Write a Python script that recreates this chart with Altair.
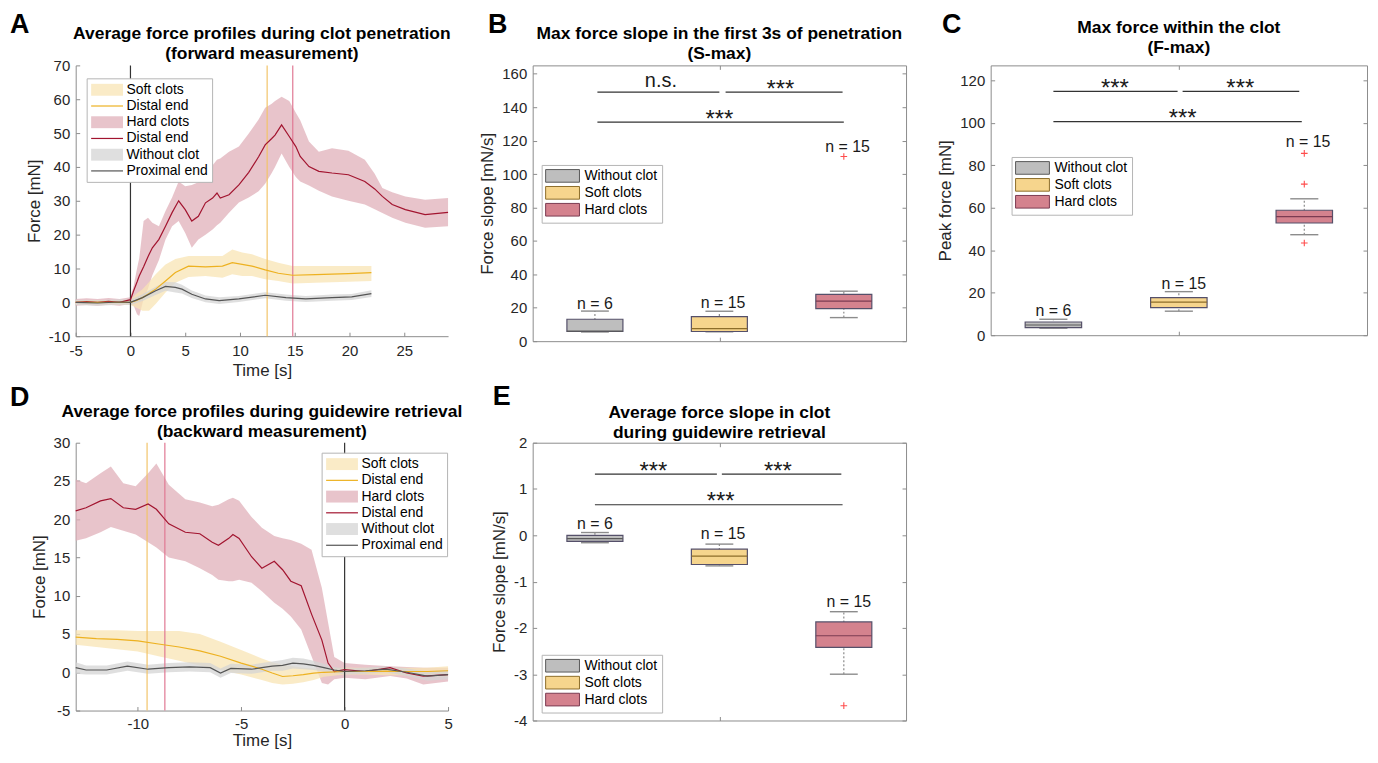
import altair as alt
import pandas as pd

FONT = "Liberation Sans"
MINUS = "replace(datum.label, '\u2212', '-')"

# ---------------- Panel A : forward measurement ----------------
a_hard_t = [-5, -4, -3, -2, -1, 0, 0.3, 0.6, 0.8, 1.2, 1.6, 2.0, 2.6, 3.2, 3.8, 4.4, 5.0, 5.6, 6.2, 6.85, 7.5,
            7.9, 8.2, 9.0, 9.9, 10.8, 11.7, 12.3, 12.9, 13.2, 13.8, 14.5, 15.1, 15.5, 16.3, 17.2, 18.4, 19.9,
            21.4, 22.3, 23.0, 23.9, 25.1, 26.9, 29]
a_hard_m = [0, 0.2, 0, 0.3, 0, 0.8, 3.5, 6, 7.8, 10.5, 13.5, 16.1, 18.6, 22.5, 26.5, 30, 27.4, 24, 25.4, 29.4,
            30.8, 32.3, 30.8, 31.8, 34.7, 38.4, 43.0, 46.5, 48.4, 49.4, 52.4, 49, 46, 43.1, 40.1, 38.7, 38.2,
            37.7, 35.7, 33.5, 31.3, 28.9, 27.4, 25.9, 26.6]
a_hard_u = [1, 1.2, 1, 1.3, 1, 1.5, 5, 10, 13, 24, 25, 23.5, 22.5, 27, 31, 35.7, 34.3, 34.7, 35.5, 37.7, 40.5,
            42.1, 42.5, 44.5, 46, 49.9, 54, 57.5, 58.7, 59.5, 60.7, 59.5, 56, 53.8, 47.5, 44.5, 45.5, 44.8,
            42.1, 38, 33.8, 32.5, 31.3, 30.3, 30.8]
a_hard_l = [-1, -0.8, -1, -0.7, -1, -0.5, -1, -3.5, -4, 1, 4, 8, 12.5, 18.6, 22.5, 24, 20.5, 16.1, 18.6, 20,
            21.5, 22.8, 23.5, 26.5, 29.5, 31, 32.8, 35, 38.2, 40, 44, 40, 37, 35.7, 34.5, 33, 31.3, 30, 28.9,
            27.5, 26.4, 25, 23.5, 22, 22.5]

a_soft_t = [-5, -3, -1, 0, 0.5, 1.1, 1.7, 2.3, 3.2, 4.1, 5.3, 6.85, 8.4, 9.3, 10.2, 11.1, 12.3, 13.5, 14.8,
            16.9, 19.9, 22]
a_soft_m = [0, 0, 0, 0, 0.5, 1.4, 2.6, 3.9, 6.3, 8.8, 10.7, 10.5, 10.7, 11.7, 11.2, 10.7, 9.6, 8.6, 8.0, 8.2,
            8.5, 8.8]
a_soft_u = [0.7, 0.7, 0.7, 0.8, 2.5, 3.9, 6, 8.3, 11.2, 12.8, 13.7, 13.7, 13.7, 15.6, 14.7, 14.2, 12.8, 11.7,
            10.7, 10.7, 10.7, 10.7]
a_soft_l = [-0.7, -0.7, -0.7, -0.8, -1.5, -2.5, -2.5, -0.5, 2.9, 5.8, 7.5, 7.8, 7.3, 8.3, 7.8, 7.8, 6.8, 6.3,
            5.6, 5.8, 6.1, 6.3]

a_none_t = [-5, -3, -1, 0, 1.1, 2.3, 3.2, 4.1, 4.7, 5.6, 6.85, 8.1, 9.9, 12.3, 14.2, 16, 18.4, 20.2, 22]
a_none_m = [0, -0.2, 0.1, 0, 1.4, 3.4, 4.7, 4.4, 3.9, 2.4, 1.0, 0.5, 1.0, 2.1, 1.4, 1.0, 1.4, 1.6, 2.6]
a_none_u = [0.8, 0.6, 0.9, 0.8, 2.4, 4.6, 6.0, 5.9, 5.2, 3.5, 2.0, 1.5, 1.9, 3.0, 2.3, 1.9, 2.3, 2.5, 3.6]
a_none_l = [-0.8, -1.0, -0.7, -0.8, 0.4, 2.2, 3.4, 2.9, 2.6, 1.3, 0.0, -0.5, 0.1, 1.2, 0.5, 0.1, 0.5, 0.7, 1.6]

a_start_t = [0]
a_soft_end_t = [12.48]
a_hard_end_t = [14.82]

# ---------------- Panel D : backward measurement ----------------
d_hard_t = [-13, -12.5, -11.8, -11.3, -10.7, -10.1, -9.5, -9.1, -8.5, -7.7, -7.0, -6.4, -6.1, -5.6, -5.4, -5.1,
            -4.5, -4.0, -3.4, -3.0, -2.6, -2.1, -1.6, -1.1, -0.8, -0.5, 0, 1, 2.2, 3.0, 3.8, 5]
d_hard_m = [21.1, 21.5, 22.4, 22.7, 21.5, 21.3, 22.0, 21.3, 19.4, 18.3, 18.1, 17.0, 16.6, 17.5, 18.0, 17.5,
            15.1, 13.6, 14.5, 13.4, 11.9, 11.3, 7.6, 4.2, 1.2, 0.1, 0.35, 0.1, 0.6, -0.1, -0.5, -0.3]
d_hard_u = [25.2, 24.7, 26.0, 26.9, 24.7, 24.3, 26.0, 27.3, 24.5, 22.6, 22.2, 21.7, 21.9, 22.6, 22.8, 22.4,
            20.3, 18.9, 17.8, 17.5, 17.3, 16.8, 16.0, 11.0, 6.5, 2.0, 1.2, 1.0, 0.8, 0.7, 0.6, 0.6]
d_hard_l = [17.2, 17.5, 18.3, 19.0, 18.5, 18.0, 17.0, 16.3, 15.0, 14.5, 13.6, 12.7, 12.1, 11.9, 11.9, 12.1,
            11.7, 10.6, 9.1, 8.3, 7.3, 5.6, 2.1, -1.4, -1.6, -0.9, -0.7, -0.9, -0.5, -0.8, -1.6, -1.2]

d_soft_t = [-13, -12, -11, -10, -9, -8, -7, -6, -5, -4, -3.5, -3, -2.5, -2, -1.5, -1, 0, 1, 2, 3, 4, 5]
d_soft_m = [4.6, 4.4, 4.3, 4.1, 3.7, 3.3, 2.8, 2.1, 1.2, 0.4, -0.1, -0.55, -0.45, -0.3, -0.1, 0.0, 0.1, 0.1,
            0.15, 0.1, 0.1, 0.2]
d_soft_u = [5.5, 5.5, 5.5, 5.4, 5.4, 5.4, 5.0, 4.0, 2.9, 1.8, 1.3, 1.0, 0.8, 0.6, 0.5, 0.5, 0.6, 0.6, 0.6, 0.6,
            0.6, 0.8]
d_soft_l = [3.6, 3.3, 3.0, 2.7, 2.1, 1.5, 0.9, 0.3, -0.3, -1.0, -1.4, -1.6, -1.5, -1.3, -1.0, -0.6, -0.3, -0.3,
            -0.4, -0.4, -0.5, -0.6]

d_none_t = [-13, -12.5, -11.5, -10.5, -9.5, -8.5, -7.5, -6.5, -6, -5.5, -4.5, -4, -3.5, -3, -2.5, -2, -1.5, -1,
            -0.5, 0, 1, 2, 3, 4, 5]
d_none_m = [0.6, 0.3, 0.3, 0.8, 0.4, 0.6, 0.7, 0.6, -0.1, 0.5, 0.4, 0.6, 0.8, 0.9, 1.2, 1.1, 0.9, 0.6, 0.3,
            0.1, 0.2, 0.4, 0.0, -0.5, -0.3]
d_none_u = [1.3, 0.9, 0.9, 1.4, 1.0, 1.2, 1.3, 1.2, 0.5, 1.1, 1.0, 1.2, 1.4, 1.6, 1.9, 1.8, 1.5, 1.1, 0.7, 0.5,
            0.6, 0.8, 0.5, 0.1, 0.3]
d_none_l = [-0.2, -0.3, -0.3, 0.2, -0.2, 0.0, 0.1, 0.0, -0.7, -0.1, -0.2, 0.0, 0.2, 0.2, 0.5, 0.4, 0.3, 0.1,
            -0.1, -0.3, -0.2, 0.0, -0.5, -1.1, -0.9]

d_end_t = [0]
d_soft_start_t = [-9.55]
d_hard_start_t = [-8.69]

# ---------------- Box plot panels ----------------
box_groups = ["Without clot", "Soft clots", "Hard clots"]
box_pos = [1, 2, 3]

# B: S-max
b_q1 = [5.8, 5.8, 19.5]
b_med = [6.0, 7.5, 24.0]
b_q3 = [13.1, 14.7, 28.0]
b_lo = [5.5, 5.6, 14.1]
b_hi = [18.0, 17.9, 29.9]
b_out_pos = [3]
b_out_val = [110.5]
b_n_text = ["n = 6", "n = 15", "n = 15"]
b_n_x = [1.0, 2.03, 3.03]
b_n_y = [19.5, 20.1, 112.9]
b_sig_x1 = [1.02, 2.05, 1.02]
b_sig_x2 = [2.0, 2.99, 3.0]
b_sig_y = [149.0, 149.0, 131.1]
b_sig_text = ["n.s.", "***", "***"]
b_sig_tx = [1.53, 2.49, 2.0]
b_sig_ty = [152.3, 146.3, 128.2]

# C: F-max
c_q1 = [3.6, 13.0, 52.8]
c_med = [4.8, 15.6, 55.8]
c_q3 = [6.2, 17.7, 58.8]
c_lo = [3.3, 11.3, 47.3]
c_hi = [7.5, 20.5, 64.2]
c_out_pos = [3, 3, 3]
c_out_val = [85.6, 71.1, 43.4]
c_n_text = ["n = 6", "n = 15", "n = 15"]
c_n_x = [1.0, 2.04, 3.03]
c_n_y = [8.8, 21.9, 88.5]
c_sig_x1 = [1.0, 2.03, 1.0]
c_sig_x2 = [1.99, 2.96, 2.98]
c_sig_y = [114.8, 114.8, 100.5]
c_sig_text = ["***", "***", "***"]
c_sig_tx = [1.49, 2.49, 2.03]
c_sig_ty = [112.5, 112.5, 98.4]

# E: average slope during retrieval
e_q1 = [-0.13, -0.63, -2.42]
e_med = [-0.07, -0.45, -2.17]
e_q3 = [0.0, -0.30, -1.87]
e_lo = [-0.16, -0.66, -3.0]
e_hi = [0.06, -0.19, -1.65]
e_out_pos = [3]
e_out_val = [-3.68]
e_n_text = ["n = 6", "n = 15", "n = 15"]
e_n_x = [1.0, 2.03, 3.04]
e_n_y = [0.13, -0.09, -1.54]
e_sig_x1 = [1.0, 2.02, 1.0]
e_sig_x2 = [1.98, 2.98, 2.99]
e_sig_y = [1.32, 1.32, 0.66]
e_sig_text = ["***", "***", "***"]
e_sig_tx = [1.47, 2.47, 2.01]
e_sig_ty = [1.22, 1.22, 0.57]

# ---------------- styles ----------------
SOFT_BAND, HARD_BAND, NONE_BAND = "#F8E4B4", "#E0B0BA", "#D4D4D4"
SOFT_LINE, HARD_LINE, NONE_LINE = "#EDB120", "#A2142F", "#555555"
SOFT_VLINE, HARD_VLINE = "#F2C46A", "#E07893"
AXIS_GRAY = "#8C8C8C"
TXT = "#262626"

PROFILE_DOMAIN = ["Soft clots", "Distal end (soft)", "Hard clots", "Distal end (hard)",
                  "Without clot", "Proximal end"]
RECT_SYM = "M-2.46,-0.92H2.46V0.92H-2.46Z"
LINE_SYM = "M-2.46,0H2.46"
LEG_FILL = ["#FAEBC7", "transparent", "#E8C4CB", "transparent", "#DFDFDF", "transparent"]
LEG_STROKE = ["transparent", SOFT_LINE, "transparent", HARD_LINE, "transparent", NONE_LINE]
LEG_SHAPE = [RECT_SYM, LINE_SYM, RECT_SYM, LINE_SYM, RECT_SYM, LINE_SYM]

BOX_FILL = ["#BEBEBE", "#F6D58D", "#D4828E"]
BOX_MED = ["#5A5A5A", "#8C6D2A", "#7B3B52"]
BOX_EDGE = "#55506A"

TITLE_SIZE = 17.5
AXIS_TITLE_SIZE = 17
LETTER_SIZE = 27


def profile_legend(lx, ly):
    return alt.Legend(
        orient="none", legendX=lx, legendY=ly, title=None,
        labelFontSize=14, labelColor="black", labelLimit=300,
        labelExpr="indexof(datum.label, 'Distal end') == 0 ? 'Distal end' : datum.label",
        fillColor="white", strokeColor="#B4B4B4", padding=4, cornerRadius=0,
        symbolSize=169, symbolOffset=9, labelOffset=12, rowPadding=0.3, symbolStrokeWidth=1.2,
        symbolOpacity=1)


def letter_layer(letter, lx, ly):
    return alt.Chart(pd.DataFrame({"k": [letter]})).mark_text(
        align="left", baseline="top", fontSize=LETTER_SIZE, fontWeight="bold", color="black"
    ).encode(text="k:N", x=alt.value(lx), y=alt.value(ly))


def title_layer(lines, w, y_first):
    return alt.Chart(pd.DataFrame({"k": [0]})).mark_text(
        align="center", baseline="alphabetic", fontSize=TITLE_SIZE, fontWeight="bold", lineHeight=20.5,
        color="black"
    ).encode(text=alt.value(lines), x=alt.value(w / 2), y=alt.value(y_first))


def profile_panel(series, vlines, xdom, xticks, ydom, yticks, w, h, title, ty, letter, lxy, legxy,
                  xlab_pad, xtitle_pad):
    xs = alt.Scale(domain=xdom, nice=False, zero=False)
    ys = alt.Scale(domain=ydom, nice=False, zero=False)
    xaxis = alt.Axis(values=xticks, title="Time [s]", grid=True, gridDash=[0, h - 4, 4, 3000],
                     labelExpr=MINUS, labelPadding=xlab_pad, titlePadding=xtitle_pad, labelFlush=False,
                     domain=True)
    yaxis = alt.Axis(values=yticks, title="Force [mN]", grid=True, gridDash=[4, 3000],
                     labelExpr=MINUS, labelPadding=6, titlePadding=5, labelFlush=False, domain=True)
    layers = []
    for band_col, line_col, t, m, u, l in series:
        df = pd.DataFrame({"t": t, "lo": l, "hi": u})
        layers.append(alt.Chart(df).mark_area(color=band_col, opacity=0.75).encode(
            x=alt.X("t:Q", scale=xs, axis=xaxis),
            y=alt.Y("lo:Q", scale=ys, axis=yaxis), y2="hi:Q"))
    for (vt, vcol) in vlines:
        layers.append(alt.Chart(pd.DataFrame({"t": vt})).mark_rule(color=vcol, strokeWidth=1.2).encode(
            x=alt.X("t:Q", scale=xs, axis=xaxis)))
    for band_col, line_col, t, m, u, l in series:
        df = pd.DataFrame({"t": t, "m": m})
        layers.append(alt.Chart(df).mark_line(color=line_col, strokeWidth=1.2).encode(
            x=alt.X("t:Q", scale=xs, axis=xaxis),
            y=alt.Y("m:Q", scale=ys, axis=yaxis)))
    # legend carrier: no rows, only the legend built from the fill / stroke / shape scales
    leg = profile_legend(*legxy)
    layers.append(alt.Chart(pd.DataFrame({"s": pd.Series([], dtype=str)})).mark_point().encode(
        fill=alt.Fill("s:N", scale=alt.Scale(domain=PROFILE_DOMAIN, range=LEG_FILL), legend=leg, title=None),
        stroke=alt.Stroke("s:N", scale=alt.Scale(domain=PROFILE_DOMAIN, range=LEG_STROKE), legend=leg,
                          title=None),
        shape=alt.Shape("s:N", scale=alt.Scale(domain=PROFILE_DOMAIN, range=LEG_SHAPE), legend=leg,
                        title=None)))
    layers.append(title_layer(title, w, ty))
    layers.append(letter_layer(letter, *lxy))
    return alt.layer(*layers).properties(width=w, height=h)


def box_legend(lx, ly):
    return alt.Legend(
        orient="none", legendX=lx, legendY=ly, title=None,
        labelFontSize=14, labelColor="black", labelLimit=300,
        fillColor="white", strokeColor="#B4B4B4", padding=4, cornerRadius=0,
        symbolType="M-2.615,-0.977H2.615V0.977H-2.615Z", symbolSize=169, symbolOffset=10,
        labelOffset=15, rowPadding=-1, symbolStrokeColor=BOX_EDGE, symbolStrokeWidth=1, symbolOpacity=1)


def box_panel(q1, med, q3, lo, hi, out_pos, out_val, n_text, n_x, n_y,
              sig_x1, sig_x2, sig_y, sig_text, sig_tx, sig_ty,
              ydom, yticks, ytitle, w, h, title, ty, letter, lxy, legxy):
    xs = alt.Scale(domain=[0.5, 3.5], nice=False, zero=False)
    ys = alt.Scale(domain=ydom, nice=False, zero=False)
    xaxis = alt.Axis(values=[2], labels=False, title=None, ticks=False, domain=False, grid=True,
                     gridDash=[4, h - 8, 4, 3000])
    yaxis = alt.Axis(values=yticks, title=ytitle, grid=True, gridDash=[4, w - 8, 4, 3000], domain=False,
                     labelExpr=MINUS, labelPadding=6, titlePadding=5, labelFlush=False)

    def X(f):
        return alt.X(f, scale=xs, axis=xaxis)

    def Y(f):
        return alt.Y(f, scale=ys, axis=yaxis)

    df = pd.DataFrame({"g": box_groups, "pos": box_pos, "q1": q1, "med": med, "q3": q3, "lo": lo, "hi": hi})
    base = alt.Chart(df).transform_calculate(
        bx1="datum.pos - 0.225", bx2="datum.pos + 0.225", cx1="datum.pos - 0.112", cx2="datum.pos + 0.112")

    whisk = base.mark_rule(color=AXIS_GRAY, strokeDash=[2, 2], strokeWidth=1.2).encode(
        x=X("pos:Q"), y=Y("lo:Q"), y2="hi:Q")
    cap_lo = base.mark_rule(color=AXIS_GRAY, strokeWidth=1.4).encode(x=X("cx1:Q"), x2="cx2:Q", y=Y("lo:Q"))
    cap_hi = base.mark_rule(color=AXIS_GRAY, strokeWidth=1.4).encode(x=X("cx1:Q"), x2="cx2:Q", y=Y("hi:Q"))
    box = base.mark_rect(stroke=BOX_EDGE, strokeWidth=1.2).encode(
        x=X("bx1:Q"), x2="bx2:Q", y=Y("q1:Q"), y2="q3:Q",
        color=alt.Color("g:N", scale=alt.Scale(domain=box_groups, range=BOX_FILL),
                        legend=box_legend(*legxy), title=None))
    median = base.mark_rule(strokeWidth=1.2).encode(
        x=X("bx1:Q"), x2="bx2:Q", y=Y("med:Q"),
        stroke=alt.Stroke("g:N", scale=alt.Scale(domain=box_groups, range=BOX_MED), legend=None))

    outl = alt.Chart(pd.DataFrame({"pos": out_pos, "v": out_val})).mark_point(
        shape="M-1,0H1M0,-1V1", filled=False, color="#FF4D4D", size=45, strokeWidth=1.1, opacity=1
    ).encode(x=X("pos:Q"), y=Y("v:Q"))

    ntx = alt.Chart(pd.DataFrame({"x": n_x, "y": n_y, "t": n_text})).mark_text(
        fontSize=16, color="#1A1A1A", align="center", baseline="alphabetic"
    ).encode(x=X("x:Q"), y=Y("y:Q"), text="t:N")

    sig = alt.Chart(pd.DataFrame({"x1": sig_x1, "x2": sig_x2, "y": sig_y})).mark_rule(
        color="#333333", strokeWidth=1.2).encode(x=X("x1:Q"), x2="x2:Q", y=Y("y:Q"))
    sdf = pd.DataFrame({"x": sig_tx, "y": sig_ty, "t": sig_text})
    stars = alt.Chart(sdf).transform_filter("datum.t == '***'").mark_text(
        fontSize=24, color="#1A1A1A", align="center", baseline="alphabetic"
    ).encode(x=X("x:Q"), y=Y("y:Q"), text="t:N")
    ns = alt.Chart(sdf).transform_filter("datum.t != '***'").mark_text(
        fontSize=20, color="#1A1A1A", align="center", baseline="alphabetic"
    ).encode(x=X("x:Q"), y=Y("y:Q"), text="t:N")

    return alt.layer(whisk, cap_lo, cap_hi, box, median, outl, ntx, sig, stars, ns,
                     title_layer(title, w, ty), letter_layer(letter, *lxy)).properties(
        width=w, height=h, view=alt.ViewBackground(stroke=AXIS_GRAY, strokeWidth=1))


panel_a = profile_panel(
    [(HARD_BAND, HARD_LINE, a_hard_t, a_hard_m, a_hard_u, a_hard_l),
     (SOFT_BAND, SOFT_LINE, a_soft_t, a_soft_m, a_soft_u, a_soft_l),
     (NONE_BAND, NONE_LINE, a_none_t, a_none_m, a_none_u, a_none_l)],
    [(a_start_t, "#333333"), (a_soft_end_t, SOFT_VLINE), (a_hard_end_t, HARD_VLINE)],
    [-5, 29], [-5, 0, 5, 10, 15, 20, 25], [-10, 70], [-10, 0, 10, 20, 30, 40, 50, 60, 70],
    374, 272, ["Average force profiles during clot penetration", "(forward measurement)"], -27,
    "A", (-66, -54), (11, 13), 7, 4)

panel_d = profile_panel(
    [(HARD_BAND, HARD_LINE, d_hard_t, d_hard_m, d_hard_u, d_hard_l),
     (SOFT_BAND, SOFT_LINE, d_soft_t, d_soft_m, d_soft_u, d_soft_l),
     (NONE_BAND, NONE_LINE, d_none_t, d_none_m, d_none_u, d_none_l)],
    [(d_end_t, "#333333"), (d_soft_start_t, SOFT_VLINE), (d_hard_start_t, HARD_VLINE)],
    [-13, 5], [-10, -5, 0, 5], [-5, 30], [-5, 0, 5, 10, 15, 20, 25, 30],
    374, 269, ["Average force profiles during guidewire retrieval", "(backward measurement)"], -26,
    "D", (-66, -58), (247, 10), 6, 1)

panel_b = box_panel(b_q1, b_med, b_q3, b_lo, b_hi, b_out_pos, b_out_val, b_n_text, b_n_x, b_n_y,
                    b_sig_x1, b_sig_x2, b_sig_y, b_sig_text, b_sig_tx, b_sig_ty,
                    [0, 165], [0, 20, 40, 60, 80, 100, 120, 140, 160], "Force slope [mN/s]",
                    375, 277, ["Max force slope in the first 3s of penetration", "(S-max)"], -26.5,
                    "B", (-45, -54), (9, 100))

panel_c = box_panel(c_q1, c_med, c_q3, c_lo, c_hi, c_out_pos, c_out_val, c_n_text, c_n_x, c_n_y,
                    c_sig_x1, c_sig_x2, c_sig_y, c_sig_text, c_sig_tx, c_sig_ty,
                    [0, 127], [0, 20, 40, 60, 80, 100, 120], "Peak force [mN]",
                    378, 271, ["Max force within the clot", "(F-max)"], -33,
                    "C", (-49, -54), (21, 92))

panel_e = box_panel(e_q1, e_med, e_q3, e_lo, e_hi, e_out_pos, e_out_val, e_n_text, e_n_x, e_n_y,
                    e_sig_x1, e_sig_x2, e_sig_y, e_sig_text, e_sig_tx, e_sig_ty,
                    [-4, 2], [-4, -3, -2, -1, 0, 1, 2], "Force slope [mN/s]",
                    375, 279, ["Average force slope in clot", "during guidewire retrieval"], -25,
                    "E", (-40, -59), (9, 213))

chart = alt.concat(
    panel_a, panel_b, panel_c, panel_d, panel_e,
    columns=3, spacing={"row": 102, "column": 85}, bounds="flush", align="each",
).resolve_scale(
    color="independent", stroke="independent", fill="independent", shape="independent",
    x="independent", y="independent"
).properties(
    padding={"left": 2, "top": 0, "right": 2, "bottom": 0}
).configure(
    font=FONT
).configure_view(
    stroke=None
).configure_axis(
    labelFont=FONT, titleFont=FONT, labelFontSize=15, titleFontSize=AXIS_TITLE_SIZE, titleFontWeight="normal",
    labelColor=TXT, titleColor=TXT, domainColor=AXIS_GRAY, gridColor=AXIS_GRAY, gridOpacity=1,
    gridWidth=1, ticks=False, tickSize=0
).configure_legend(
    labelFont=FONT
)

chart.save("out.html", embed_options={"renderer": "svg", "actions": False})
